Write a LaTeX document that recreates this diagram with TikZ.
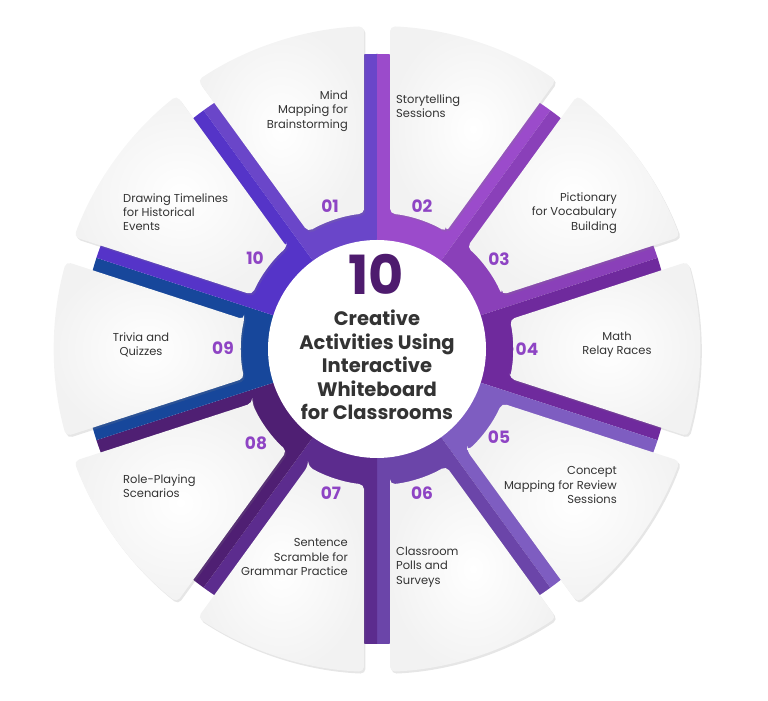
\documentclass[tikz,border=0pt]{standalone}
\usepackage{fontspec}
\setmainfont{Poppins}
\usepackage{xcolor}
\usepackage{tikz}
\usetikzlibrary{shadows}

\definecolor{seg01}{HTML}{6A46C9}
\definecolor{seg02}{HTML}{9B4BCB}
\definecolor{seg03}{HTML}{8A40B9}
\definecolor{seg04}{HTML}{6F2A9D}
\definecolor{seg05}{HTML}{7E5DC1}
\definecolor{seg06}{HTML}{6B45A9}
\definecolor{seg07}{HTML}{5C2C8E}
\definecolor{seg08}{HTML}{4F1F73}
\definecolor{seg09}{HTML}{17479B}
\definecolor{seg10}{HTML}{5534C8}
\definecolor{numpurple}{HTML}{8E44C4}
\definecolor{tenpurple}{HTML}{4E1B6E}
\definecolor{textgray}{HTML}{333333}

\begin{document}
\begin{tikzpicture}[
    x=1pt, y=1pt,
    card/.style={rounded corners=5pt, inner color=white, outer color=black!5, drop shadow={opacity=0.2, shadow xshift=1.5pt, shadow yshift=-2pt}},
    numlabel/.style={font=\fontsize{17}{17}\selectfont\bfseries, text=numpurple, inner sep=0pt},
    itemtext/.style={font=\fontsize{11.5}{14.3}\selectfont, text=textgray, inner sep=0pt},
    bigten/.style={font=\fontsize{54}{54}\selectfont\bfseries, text=tenpurple, inner sep=0pt},
    titletext/.style={font=\fontsize{19.5}{23.5}\selectfont\bfseries, text=textgray, align=center, inner sep=0pt}
]
    \useasboundingbox (0,0) rectangle (768,701);

    \begin{scope}[shift={(377,352)}]
        \fill [seg01] (0,0) -- (90:295pt) arc [start angle=90, end angle=126, radius=295pt] -- cycle;
        \fill [seg02] (0,0) -- (54:295pt) arc [start angle=54, end angle=90, radius=295pt] -- cycle;
        \fill [seg03] (0,0) -- (18:295pt) arc [start angle=18, end angle=54, radius=295pt] -- cycle;
        \fill [seg04] (0,0) -- (-18:295pt) arc [start angle=-18, end angle=18, radius=295pt] -- cycle;
        \fill [seg05] (0,0) -- (-54:295pt) arc [start angle=-54, end angle=-18, radius=295pt] -- cycle;
        \fill [seg06] (0,0) -- (-90:295pt) arc [start angle=-90, end angle=-54, radius=295pt] -- cycle;
        \fill [seg07] (0,0) -- (-126:295pt) arc [start angle=-126, end angle=-90, radius=295pt] -- cycle;
        \fill [seg08] (0,0) -- (-162:295pt) arc [start angle=-162, end angle=-126, radius=295pt] -- cycle;
        \fill [seg09] (0,0) -- (162:295pt) arc [start angle=162, end angle=198, radius=295pt] -- cycle;
        \fill [seg10] (0,0) -- (126:295pt) arc [start angle=126, end angle=162, radius=295pt] -- cycle;

        \path [card] (95.49:136pt) -- (92.31:323pt) arc [start angle=92.31, end angle=123.69, radius=323pt] -- (120.51:136pt) arc [start angle=120.51, end angle=95.49, radius=136pt] -- cycle;
        \path [card] (59.49:136pt) -- (56.31:323pt) arc [start angle=56.31, end angle=87.69, radius=323pt] -- (84.51:136pt) arc [start angle=84.51, end angle=59.49, radius=136pt] -- cycle;
        \path [card] (23.49:136pt) -- (20.31:323pt) arc [start angle=20.31, end angle=51.69, radius=323pt] -- (48.51:136pt) arc [start angle=48.51, end angle=23.49, radius=136pt] -- cycle;
        \path [card] (-12.51:136pt) -- (-15.69:323pt) arc [start angle=-15.69, end angle=15.69, radius=323pt] -- (12.51:136pt) arc [start angle=12.51, end angle=-12.51, radius=136pt] -- cycle;
        \path [card] (-48.51:136pt) -- (-51.69:323pt) arc [start angle=-51.69, end angle=-20.31, radius=323pt] -- (-23.49:136pt) arc [start angle=-23.49, end angle=-48.51, radius=136pt] -- cycle;
        \path [card] (-84.51:136pt) -- (-87.69:323pt) arc [start angle=-87.69, end angle=-56.31, radius=323pt] -- (-59.49:136pt) arc [start angle=-59.49, end angle=-84.51, radius=136pt] -- cycle;
        \path [card] (-120.51:136pt) -- (-123.69:323pt) arc [start angle=-123.69, end angle=-92.31, radius=323pt] -- (-95.49:136pt) arc [start angle=-95.49, end angle=-120.51, radius=136pt] -- cycle;
        \path [card] (-156.51:136pt) -- (-159.69:323pt) arc [start angle=-159.69, end angle=-128.31, radius=323pt] -- (-131.49:136pt) arc [start angle=-131.49, end angle=-156.51, radius=136pt] -- cycle;
        \path [card] (167.49:136pt) -- (164.31:323pt) arc [start angle=164.31, end angle=195.69, radius=323pt] -- (192.51:136pt) arc [start angle=192.51, end angle=167.49, radius=136pt] -- cycle;
        \path [card] (131.49:136pt) -- (128.31:323pt) arc [start angle=128.31, end angle=159.69, radius=323pt] -- (156.51:136pt) arc [start angle=156.51, end angle=131.49, radius=136pt] -- cycle;

        \fill [white] (0,0) circle [radius=109pt];
    \end{scope}

    \node [bigten] (ten) at (376,427) {10};
    \node [titletext] (title) at (377,336) {Creative\\Activities Using\\Interactive\\Whiteboard\\for Classrooms};

    \node [numlabel] (n01) at (330,495) {01};
    \node [numlabel] (n02) at (422,495) {02};
    \node [numlabel] (n03) at (499,442) {03};
    \node [numlabel] (n04) at (527,352) {04};
    \node [numlabel] (n05) at (499,264) {05};
    \node [numlabel] (n06) at (422,208) {06};
    \node [numlabel] (n07) at (331,208) {07};
    \node [numlabel] (n08) at (256,258) {08};
    \node [numlabel] (n09) at (223,353) {09};
    \node [numlabel] (n10) at (255,443) {10};

    \node [itemtext, align=right, anchor=east] (t01) at (348,590) {Mind\\Mapping for\\Brainstorming};
    \node [itemtext, align=left, anchor=west] (t02) at (396,595) {Storytelling\\Sessions};
    \node [itemtext, align=right, anchor=east] (t03) at (617,488) {Pictionary\\for Vocabulary\\Building};
    \node [itemtext, align=center] (t04) at (617,356) {Math\\Relay Races};
    \node [itemtext, align=right, anchor=east] (t05) at (617,216) {Concept\\Mapping for Review\\Sessions};
    \node [itemtext, align=left, anchor=west] (t06) at (396,134) {Classroom\\Polls and\\Surveys};
    \node [itemtext, align=right, anchor=east] (t07) at (348,144) {Sentence\\Scramble for\\Grammar Practice};
    \node [itemtext, align=left, anchor=west] (t08) at (123,215) {Role-Playing\\Scenarios};
    \node [itemtext, align=center] (t09) at (141,356) {Trivia and\\Quizzes};
    \node [itemtext, align=left, anchor=west] (t10) at (123,489) {Drawing Timelines\\for Historical\\Events};
\end{tikzpicture}
\end{document}
